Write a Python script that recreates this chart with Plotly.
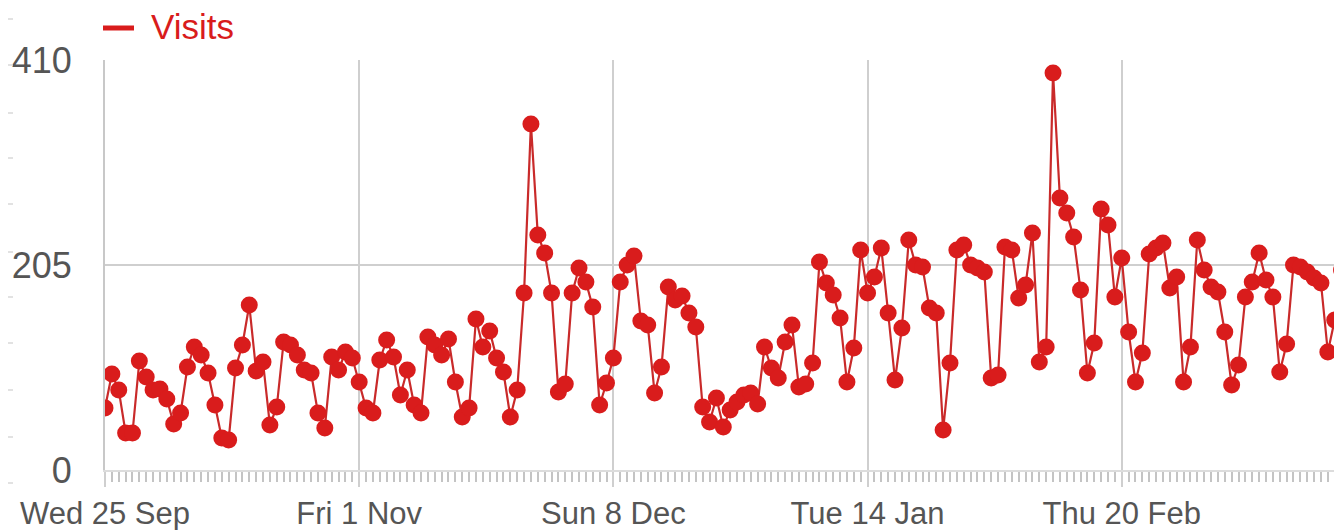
import plotly.graph_objects as go
import pandas as pd

start_date = "2013-09-25"
visits = [
    62, 96, 80, 37, 37, 109, 93, 80, 81, 71,
    46, 57, 103, 123, 115, 97, 65, 32, 30, 102,
    125, 165, 99, 108, 45, 63, 128, 125, 115, 100,
    97, 57, 42, 113, 100, 118, 112, 88, 62, 57,
    110, 130, 113, 75, 100, 65, 57, 133, 125, 115,
    131, 88, 53, 62, 151, 123, 139, 112, 98, 53,
    80, 177, 346, 235, 217, 177, 78, 86, 177, 202,
    188, 163, 65, 87, 112, 188, 205, 214, 149, 145,
    77, 103, 183, 170, 174, 157, 143, 63, 48, 72,
    43, 60, 68, 75, 77, 66, 123, 102, 92, 128,
    145, 83, 86, 107, 208, 187, 175, 152, 88, 122,
    220, 177, 193, 222, 157, 90, 142, 230, 205, 203,
    162, 157, 40, 107, 220, 225, 205, 202, 198, 92,
    95, 223, 220, 172, 185, 237, 108, 123, 397, 272,
    257, 233, 180, 97, 127, 261, 245, 173, 212, 138,
    88, 117, 216, 222, 227, 182, 193, 88, 123, 230,
    200, 183, 178, 138, 85, 105, 173, 188, 217, 190,
    173, 98, 126, 205, 203, 198, 192, 187, 118, 150,
    200,
]
dates = pd.date_range(start_date, periods=len(visits), freq="D")

tick_dates = ["2013-09-25", "2013-11-01", "2013-12-08", "2014-01-14", "2014-02-20"]
tick_labels = ["Wed 25 Sep", "Fri 1 Nov", "Sun 8 Dec", "Tue 14 Jan", "Thu 20 Feb"]
y_ticks = [0, 205, 410]
series_name = "Visits"

RED = "#d91c1c"
LINE_RED = "#c92a2a"
GRID = "#cfcfcf"
TXT = "#555555"
FONT = "Liberation Sans, Arial, sans-serif"

fig = go.Figure()
fig.add_trace(go.Scatter(
    x=dates, y=visits, mode="lines+markers", name=series_name,
    line=dict(color=LINE_RED, width=2.2),
    marker=dict(color=RED, size=17, line=dict(width=0)),
    showlegend=False, cliponaxis=True,
))

# the page body has an 8px default margin; size the figure to fit the window
OFF = 8
W, H = 1342 - OFF, 530 - OFF
L, R, T, B = 105 - OFF, 0, 60 - OFF, 60
PW, PH = W - L - R, H - T - B


def px_x(page_x):
    return (page_x - OFF - L) / PW


def px_y(page_y):
    return 1 - (page_y - OFF - T) / PH


# decorative short stubs at the far left edge of the screenshot
stub_px = [19, 65, 113, 158, 204, 252, 297, 343, 390, 437, 483]
shapes = []
for py in stub_px:
    shapes.append(dict(type="line", xref="paper", yref="paper",
                       x0=px_x(OFF), x1=px_x(OFF + 5),
                       y0=px_y(py), y1=px_y(py),
                       line=dict(color="#d8d8d8", width=1.5)))

# legend: short red line + series name
shapes.append(dict(type="line", xref="paper", yref="paper",
                   x0=px_x(103), x1=px_x(134), y0=px_y(28), y1=px_y(28),
                   line=dict(color=RED, width=5)))
annotations = [dict(text=series_name, xref="paper", yref="paper",
                    x=px_x(149), y=px_y(27), xanchor="left", yanchor="middle",
                    showarrow=False, font=dict(size=35, color=RED, family=FONT))]

fig.update_layout(
    width=W, height=H,
    margin=dict(l=L, r=R, t=T, b=B, autoexpand=False),
    paper_bgcolor="white", plot_bgcolor="white",
    font=dict(family=FONT, color=TXT),
    shapes=shapes, annotations=annotations,
    showlegend=False,
    xaxis=dict(
        type="date", automargin=False,
        range=["2013-09-25", "2014-03-24 01:30"],
        tickvals=tick_dates, ticktext=tick_labels,
        tickfont=dict(size=31, color=TXT, family=FONT),
        ticks="outside", ticklen=15, tickwidth=2, tickcolor=GRID,
        showgrid=True, gridcolor=GRID, gridwidth=2,
        showline=True, linecolor="#dcdcdc", linewidth=2,
        zeroline=False,
        minor=dict(dtick=86400000, tick0="2013-09-25", ticks="outside",
                   ticklen=10, tickwidth=1.5, tickcolor="#c4c4c4", showgrid=False),
    ),
    yaxis=dict(
        range=[0, 410], automargin=False,
        tickvals=y_ticks,
        tickfont=dict(size=36, color=TXT, family=FONT),
        showgrid=True, gridcolor=GRID, gridwidth=2,
        showline=True, linecolor="#c8c8c8", linewidth=2,
        zeroline=False, ticks="", ticklabelstandoff=24,
    ),
)

fig.write_html("out.html")
